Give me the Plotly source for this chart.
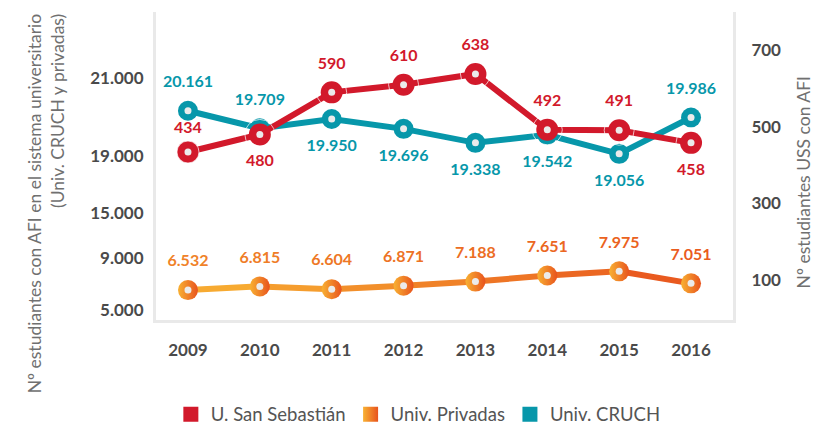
import numpy as np
import plotly.graph_objects as go

# ---------------- data ----------------
years = ["2009", "2010", "2011", "2012", "2013", "2014", "2015", "2016"]
uss = [434, 480, 590, 610, 638, 492, 491, 458]
privadas = [6532, 6815, 6604, 6871, 7188, 7651, 7975, 7051]
cruch = [20161, 19709, 19950, 19696, 19338, 19542, 19056, 19986]

left_ticks = [5000, 9000, 15000, 19000, 21000]
right_ticks = [100, 300, 500, 700]

uss_label_side = ["top", "bottom", "top", "top", "top", "top", "top", "bottom"]
cruch_label_side = ["top", "top", "bottom", "bottom", "bottom", "bottom", "bottom", "top"]
priv_label_side = ["top"] * 8

series_names = ["U. San Sebastián", "Univ. Privadas", "Univ. CRUCH"]

# ---------------- style ----------------
RED = "#d2192b"
TEAL = "#0797aa"
ORANGE_L = "#f8b133"
ORANGE_D = "#e8531d"
DOT = "#ebebeb"
TICK = "#4a4a4a"
FRAME = "#e9e9e9"
FONT = "Lato"

# broken (piecewise) left scale: relative spacing of the left-axis ticks
LEFT_SCALE = [0, 52, 97, 154, 232]
# label offset (invisible marker size) per USS point
USS_LABEL_GAP = [22, 30, 30, 30, 30, 30, 30, 30]


def left_scale(v):
    return np.interp(v, left_ticks, LEFT_SCALE)


def fmt(v):
    return f"{v:,}".replace(",", ".")


def hexmix(a, b, t):
    a = [int(a[i:i + 2], 16) for i in (1, 3, 5)]
    b = [int(b[i:i + 2], 16) for i in (1, 3, 5)]
    c = [round(a[k] + (b[k] - a[k]) * t) for k in range(3)]
    return "#%02x%02x%02x" % tuple(c)


fig = go.Figure()

cruch_y = left_scale(cruch)
priv_y = left_scale(privadas)
LABEL = dict(family=FONT, size=16, weight="bold")

# ---- CRUCH (left axis) ----
fig.add_trace(go.Scatter(x=years, y=cruch_y, mode="lines",
                         line=dict(color=TEAL, width=6), showlegend=False, hoverinfo="skip"))
fig.add_trace(go.Scatter(x=years, y=cruch_y, mode="markers",
                         marker=dict(size=20, color=TEAL), showlegend=False,
                         text=[fmt(v) for v in cruch], hoverinfo="x+text"))
fig.add_trace(go.Scatter(x=years, y=cruch_y, mode="markers",
                         marker=dict(size=7, color=DOT), showlegend=False, hoverinfo="skip"))
fig.add_trace(go.Scatter(x=years, y=cruch_y, mode="markers+text",
                         marker=dict(size=30, color="rgba(0,0,0,0)"),
                         text=[fmt(v) for v in cruch],
                         textposition=[s + " center" for s in cruch_label_side],
                         textfont=dict(LABEL, color=TEAL),
                         showlegend=False, hoverinfo="skip"))

# ---- Privadas (left axis), gradient line ----
n = len(years)
for i in range(n - 1):
    t = (i + 0.5) / (n - 1)
    fig.add_trace(go.Scatter(x=years[i:i + 2], y=priv_y[i:i + 2], mode="lines",
                             line=dict(color=hexmix(ORANGE_L, ORANGE_D, t), width=6),
                             showlegend=False, hoverinfo="skip"))
fig.add_trace(go.Scatter(x=years, y=priv_y, mode="markers",
                         marker=dict(size=20, color=ORANGE_L,
                                     gradient=dict(type="horizontal", color=ORANGE_D)),
                         showlegend=False, text=[fmt(v) for v in privadas], hoverinfo="x+text"))
fig.add_trace(go.Scatter(x=years, y=priv_y, mode="markers",
                         marker=dict(size=7, color=DOT), showlegend=False, hoverinfo="skip"))
fig.add_trace(go.Scatter(x=years, y=priv_y, mode="markers+text",
                         marker=dict(size=30, color="rgba(0,0,0,0)"),
                         text=[fmt(v) for v in privadas],
                         textposition=[s + " center" for s in priv_label_side],
                         textfont=dict(LABEL, color=[hexmix(ORANGE_L, ORANGE_D, 0.5 + 0.4 * i / (n - 1))
                                                     for i in range(n)]),
                         showlegend=False, hoverinfo="skip"))

# ---- USS (right axis) ----
fig.add_trace(go.Scatter(x=years, y=uss, yaxis="y2", mode="lines",
                         line=dict(color=RED, width=6), showlegend=False, hoverinfo="skip"))
fig.add_trace(go.Scatter(x=years, y=uss, yaxis="y2", mode="markers",
                         marker=dict(size=22, color=RED), showlegend=False,
                         text=[fmt(v) for v in uss], hoverinfo="x+text"))
fig.add_trace(go.Scatter(x=years, y=uss, yaxis="y2", mode="markers",
                         marker=dict(size=7, color=DOT), showlegend=False, hoverinfo="skip"))
fig.add_trace(go.Scatter(x=years, y=uss, yaxis="y2", mode="markers+text",
                         marker=dict(size=USS_LABEL_GAP, color="rgba(0,0,0,0)"),
                         text=[fmt(v) for v in uss],
                         textposition=[s + " center" for s in uss_label_side],
                         textfont=dict(LABEL, color=RED),
                         showlegend=False, hoverinfo="skip"))

# ---- legend entries ----
legend_markers = [
    dict(symbol="square", size=15, color=RED),
    dict(symbol="square", size=15, color=ORANGE_L, gradient=dict(type="horizontal", color=ORANGE_D)),
    dict(symbol="square", size=15, color=TEAL),
]
for name, mk in zip(series_names, legend_markers):
    fig.add_trace(go.Scatter(x=[None], y=[None], mode="markers", marker=mk, name=name,
                             showlegend=True))

tickfont = dict(family=FONT, size=17, color=TICK, weight="bold")

fig.update_layout(
    width=829, height=425,
    margin=dict(l=148, r=104, t=4, b=113),
    paper_bgcolor="white", plot_bgcolor="white",
    font=dict(family=FONT),
    xaxis=dict(type="category", range=[-0.445, 7.584], showgrid=False, zeroline=False,
               showline=True, linecolor=FRAME, linewidth=3, ticks="", tickfont=tickfont,
               ticklabelstandoff=13),
    yaxis=dict(range=[-10, 298], showgrid=False, zeroline=False, showline=True,
               linecolor=FRAME, linewidth=3, ticks="",
               tickvals=list(left_scale(left_ticks)), ticktext=[fmt(v) for v in left_ticks],
               tickfont=tickfont, ticklabelstandoff=6),
    yaxis2=dict(range=[-5, 800], overlaying="y", side="right", showgrid=False, zeroline=False,
                showline=True, linecolor=FRAME, linewidth=3, ticks="",
                tickvals=right_ticks, ticktext=[str(v) for v in right_ticks],
                tickfont=tickfont, ticklabelstandoff=12),
    legend=dict(orientation="h", xref="container", yref="container", x=0.495, y=0.043,
                xanchor="center", yanchor="middle",
                font=dict(family=FONT, size=18.5, color="#555555"), itemclick=False),
    annotations=[
        dict(text="Nº estudiantes con AFI en el sistema universitario<br>(Univ. CRUCH y privadas)",
             xref="paper", yref="paper", x=-0.19, y=0.38, xanchor="center", yanchor="middle",
             textangle=-90, align="right", showarrow=False,
             font=dict(family=FONT, size=17.5, color="#707070")),
        dict(text="Nº estudiantes USS con AFI",
             xref="paper", yref="paper", x=1.122, y=0.448, xanchor="center", yanchor="middle",
             textangle=-90, showarrow=False,
             font=dict(family=FONT, size=17.5, color="#707070")),
    ],
)

fig.write_html("out.html")
